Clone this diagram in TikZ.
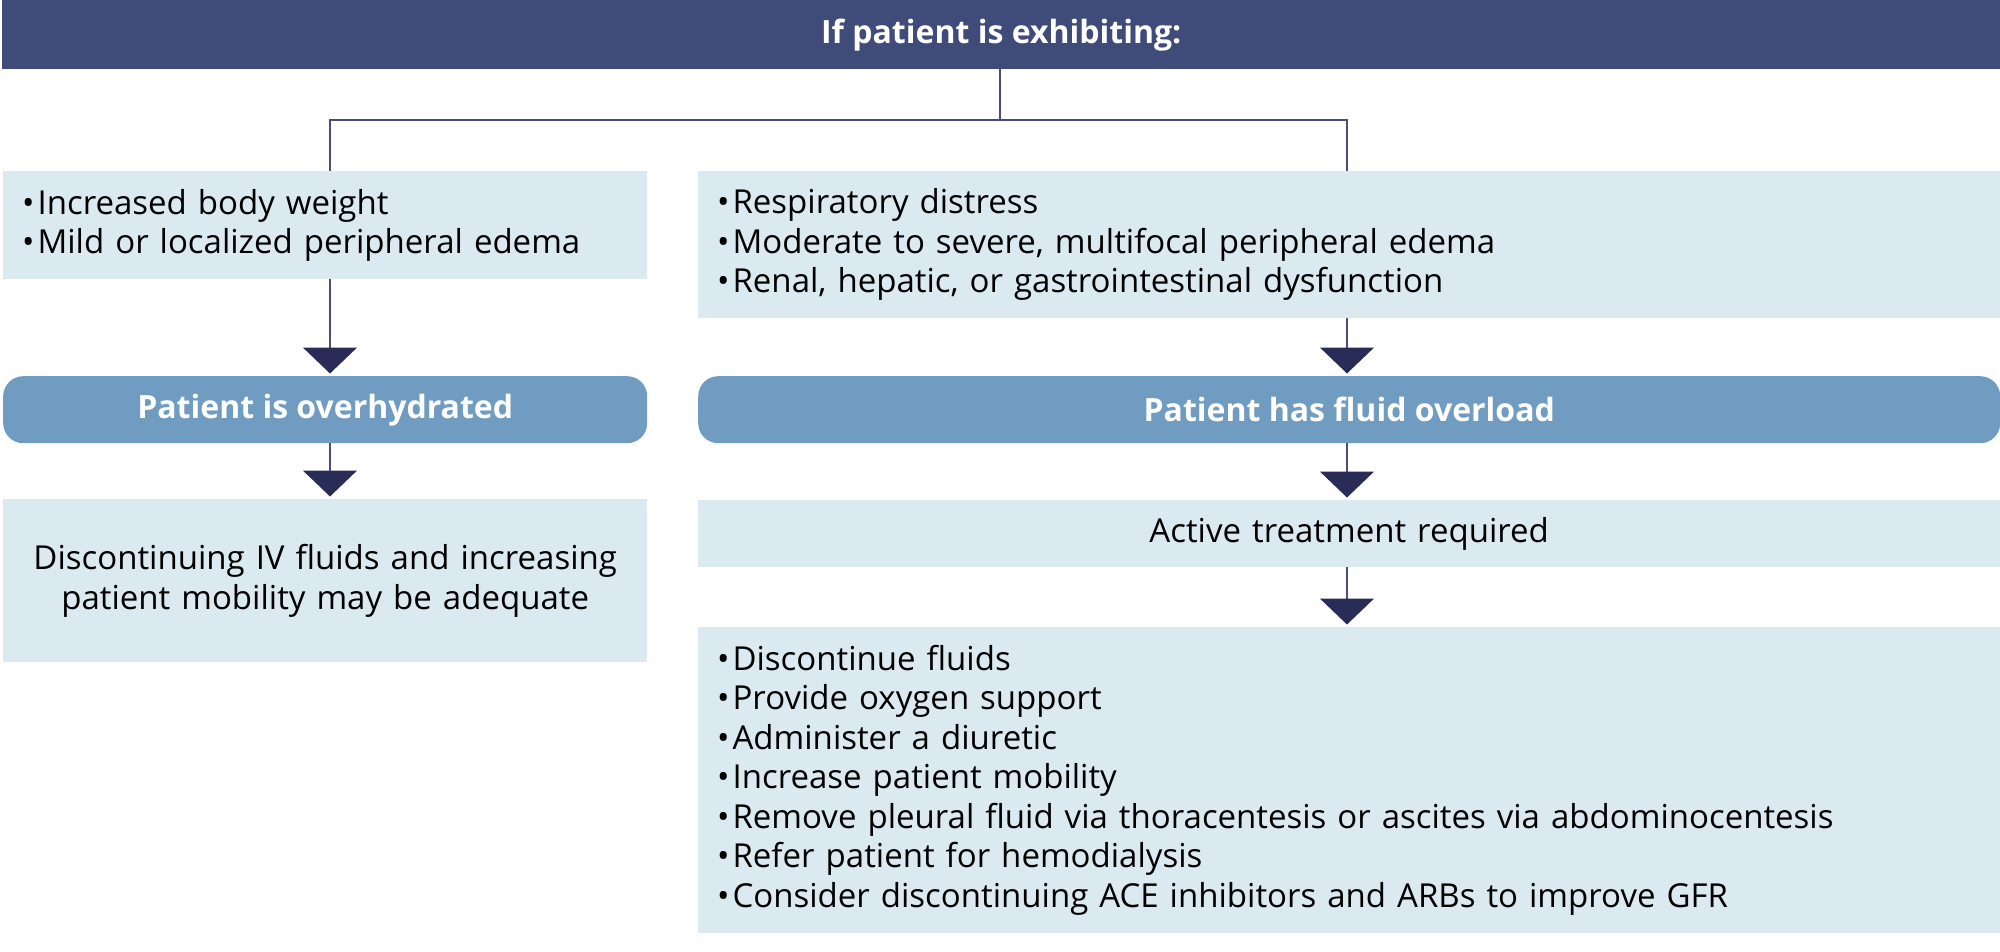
\documentclass[tikz,border=0pt]{standalone}
\usepackage{fontspec}
\setmainfont{Open Sans}
\usetikzlibrary{arrows.meta}
\definecolor{hdrblue}{HTML}{3F4C7A}
\definecolor{lightbox}{HTML}{DBE9F1}
\definecolor{midblue}{HTML}{719CC1}
\definecolor{tipnavy}{HTML}{2A2C58}
\definecolor{linenavy}{HTML}{4A4E78}
\newcommand{\bul}{•\hspace{3pt}}
\tikzset{
  basefont/.style={font=\fontsize{33}{39.5}\selectfont},
  lightnode/.style={basefont, fill=lightbox, draw=none, anchor=north west, inner xsep=19pt, inner ysep=0pt, text=black},
  roundnode/.style={font=\bfseries\fontsize{32}{38}\selectfont, fill=midblue, draw=none, rounded corners=20pt, anchor=north west, inner sep=0pt, text=white, align=center},
  flow/.style={draw=linenavy, line width=1.6pt, -{Triangle[width=54pt,length=26pt,fill=tipnavy,color=tipnavy]}, shorten >=2.5pt},
  branch/.style={draw=linenavy, line width=1.6pt},
}
\begin{document}
\begin{tikzpicture}[x=1pt,y=-1pt]
\useasboundingbox (0,0) rectangle (2000,952);
% header
\node[fill=hdrblue, anchor=north west, minimum width=1998pt, minimum height=69pt, inner sep=0pt, text=white, font=\bfseries\fontsize{32}{38}\selectfont] (hdr) at (2,0) {If patient is exhibiting:};
% first row
\node[lightnode, minimum width=644pt, minimum height=108pt, text width=606pt, align=left] (l1) at (3,171)
  {\bul Increased body weight\\\bul Mild or localized peripheral edema};
\node[lightnode, minimum width=1302pt, minimum height=147pt, text width=1264pt, align=left] (r1) at (698,171)
  {\bul Respiratory distress\\\bul Moderate to severe, multifocal peripheral edema\\\bul Renal, hepatic, or gastrointestinal dysfunction};
% second row
\node[roundnode, minimum width=644pt, minimum height=67pt] (l2) at (3,376) {Patient is overhydrated};
\node[roundnode, minimum width=1302pt, minimum height=67pt] (r2) at (698,376) {Patient has fluid overload};
% third row
\node[lightnode, minimum width=644pt, minimum height=163pt, text width=606pt, align=center] (l3) at (3,499)
  {Discontinuing IV fluids and increasing\\patient mobility may be adequate};
\node[lightnode, minimum width=1302pt, minimum height=67pt, text width=1264pt, align=center] (r3) at (698,500)
  {Active treatment required};
% fourth row
\node[lightnode, minimum width=1302pt, minimum height=306pt, text width=1264pt, align=left] (r4) at (698,627)
  {\bul Discontinue fluids\\
   \bul Provide oxygen support\\
   \bul Administer a diuretic\\
   \bul Increase patient mobility\\
   \bul Remove pleural fluid via thoracentesis or ascites via abdominocentesis\\
   \bul Refer patient for hemodialysis\\
   \bul Consider discontinuing ACE inhibitors and ARBs to improve GFR};
% branch connectors
\coordinate (junc) at (1000,120);
\coordinate (lb) at (330,120);
\coordinate (rb) at (1347,120);
\draw[branch] (hdr.south -| junc) -- (junc);
\draw[branch] (lb |- l1.north) -- (lb) -- (rb) -- (rb |- r1.north);
% flow arrows
\draw[flow] (lb |- l1.south) -- (lb |- l2.north);
\draw[flow] (lb |- l2.south) -- (lb |- l3.north);
\draw[flow] (rb |- r1.south) -- (rb |- r2.north);
\draw[flow] (rb |- r2.south) -- (rb |- r3.north);
\draw[flow] (rb |- r3.south) -- (rb |- r4.north);
\end{tikzpicture}
\end{document}
